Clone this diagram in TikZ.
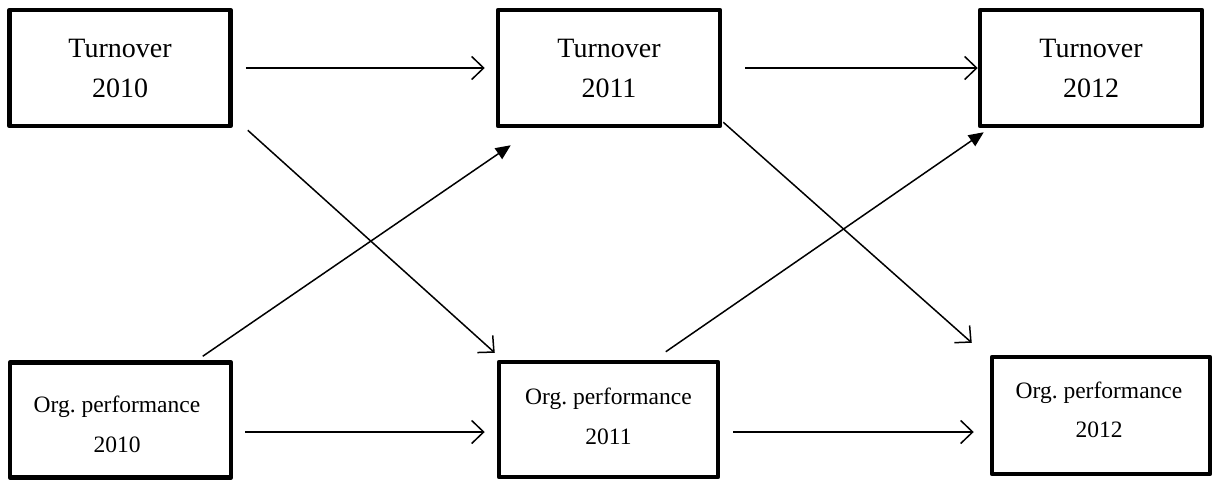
\documentclass[tikz,border=0pt]{standalone}
\usepackage{fontspec}
\setmainfont{Liberation Serif}
\usetikzlibrary{arrows.meta}
\tikzset{
  box/.style={draw, line width=4.5pt, line join=round, inner sep=0pt},
  ttext/.style={inner sep=0pt, align=center, font=\fontsize{28}{40}\selectfont},
  otext/.style={inner sep=0pt, align=center, font=\fontsize{23.5}{39.5}\selectfont},
  openarr/.style={line width=1.5pt, -{Straight Barb[length=12pt,width=23pt,line width=1.5pt]}},
  fillarr/.style={line width=1.5pt, -{Triangle[length=15pt,width=13pt]}}
}
\begin{document}
\begin{tikzpicture}[x=1pt,y=-1pt]
\useasboundingbox (0,0) rectangle (1213,480);
\node[box, minimum width=221pt, minimum height=116pt] (t10) at (120,68) {};
\node[box, minimum width=222pt, minimum height=116pt] (t11) at (609,68) {};
\node[box, minimum width=222pt, minimum height=116pt] (t12) at (1091,68) {};
\node[box, minimum width=221pt, minimum height=115pt] (o10) at (120.5,420) {};
\node[box, minimum width=219pt, minimum height=115pt] (o11) at (608.5,419.5) {};
\node[box, minimum width=218pt, minimum height=117pt] (o12) at (1101,415.5) {};
\node[ttext] (t10t) at (t10.center) {Turnover\\2010};
\node[ttext] (t11t) at (t11.center) {Turnover\\2011};
\node[ttext] (t12t) at (t12.center) {Turnover\\2012};
\node[otext] (o10t) at (117,424.5) {Org.\ performance\\2010};
\node[otext] (o11t) at (608.5,416.5) {Org.\ performance\\2011};
\node[otext] (o12t) at (1099,410) {Org.\ performance\\2012};
% horizontal
\draw[openarr] ([xshift=13pt]t10.east) -- ([xshift=-11pt]t11.west);
\draw[openarr] ([xshift=23pt]t11.east) -- ([xshift=0pt]t12.west);
\draw[openarr] ([xshift=12pt,yshift=-12pt]o10.east) -- ([xshift=-12pt,yshift=-12.5pt]o11.west);
\draw[openarr] ([xshift=13pt,yshift=-12.5pt]o11.east) -- ([xshift=-16pt,yshift=-16.5pt]o12.west);
% diagonals
\draw[openarr] ([xshift=15pt,yshift=-2pt]t10.south east) -- ([xshift=-2pt,yshift=7pt]o11.north west);
\draw[fillarr] ([xshift=195pt,yshift=4pt]o10.north west) -- ([xshift=15pt,yshift=-17pt]t11.south west);
\draw[openarr] ([xshift=1pt,yshift=6pt]t11.south east) -- ([xshift=-18pt,yshift=12pt]o12.north west);
\draw[fillarr] ([xshift=169pt,yshift=8pt]o11.north west) -- ([xshift=6pt,yshift=-4pt]t12.south west);
\end{tikzpicture}
\end{document}
